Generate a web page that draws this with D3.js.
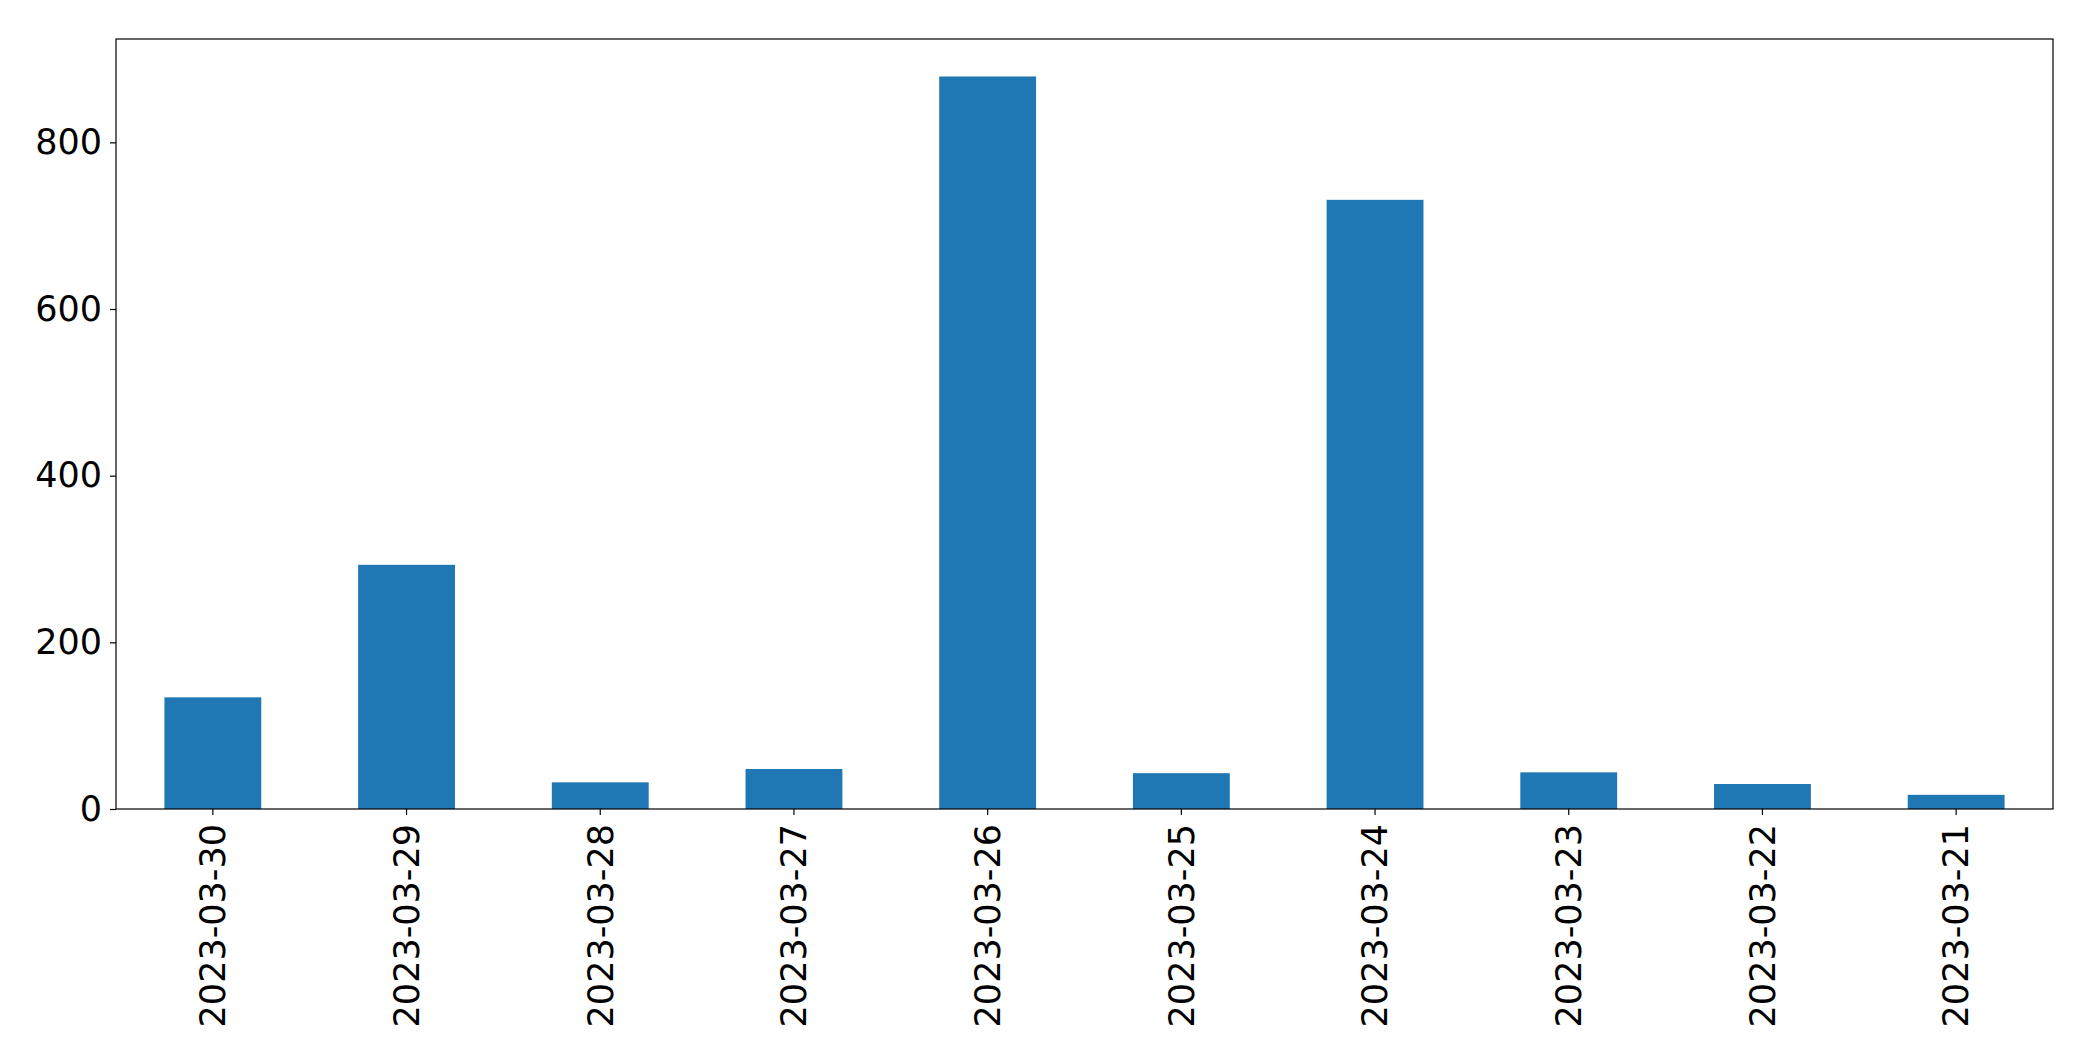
<!DOCTYPE html>
<html>
<head>
<meta charset="utf-8">
<script src="https://cdn.jsdelivr.net/npm/d3@7"></script>
<style>
  html, body { margin: 0; padding: 0; background: #fff; }
  svg { display: block; }
</style>
</head>
<body>
<svg id="chart" width="2093" height="1061"></svg>
<script>
const categories = ["2023-03-30", "2023-03-29", "2023-03-28", "2023-03-27", "2023-03-26",
                    "2023-03-25", "2023-03-24", "2023-03-23", "2023-03-22", "2023-03-21"];
const values = [134, 293, 32, 48, 879, 43, 731, 44, 30, 17];
const yTicks = [0, 200, 400, 600, 800];
const yMax = 924;

const W = 2093, H = 1061;
const margin = { left: 116, right: 2093 - 2053, top: 39, bottom: 1061 - 809 };
const svg = d3.select("#chart");
const innerW = W - margin.left - margin.right;
const innerH = H - margin.top - margin.bottom;
const g = svg.append("g").attr("transform", `translate(${margin.left},${margin.top})`);

const x = d3.scaleBand().domain(categories).range([0, innerW]).paddingInner(0.5).paddingOuter(0.25);
const y = d3.scaleLinear().domain([0, yMax]).range([innerH, 0]);

g.selectAll("rect.bar").data(categories).join("rect")
  .attr("class", "bar")
  .attr("x", d => x(d))
  .attr("width", x.bandwidth())
  .attr("y", (d, i) => y(values[i]))
  .attr("height", (d, i) => innerH - y(values[i]))
  .attr("fill", "#1f77b4");

const fontFam = "'DejaVu Sans', sans-serif";
const fs = 35;

const yAxis = g.append("g").call(d3.axisLeft(y).tickValues(yTicks).tickSize(6).tickPadding(8).tickFormat(d3.format("d")));
yAxis.select(".domain").remove();
yAxis.selectAll("text").attr("font-family", fontFam).attr("font-size", fs).attr("fill", "#000");
yAxis.selectAll("line").attr("stroke", "#000").attr("stroke-width", 1.2);

const xAxis = g.append("g").attr("transform", `translate(0,${innerH})`)
  .call(d3.axisBottom(x).tickSize(6).tickPadding(7));
xAxis.select(".domain").remove();
xAxis.selectAll("line").attr("stroke", "#000").attr("stroke-width", 1.2);
xAxis.selectAll("text")
  .attr("font-family", fontFam).attr("font-size", fs).attr("fill", "#000")
  .attr("text-anchor", "end")
  .attr("transform", "rotate(-90)")
  .attr("x", -15).attr("y", 0).attr("dy", "0.35em");

// frame
g.append("rect").attr("x", 0).attr("y", 0).attr("width", innerW).attr("height", innerH)
  .attr("fill", "none").attr("stroke", "#000").attr("stroke-width", 1.2);
</script>
</body>
</html>
